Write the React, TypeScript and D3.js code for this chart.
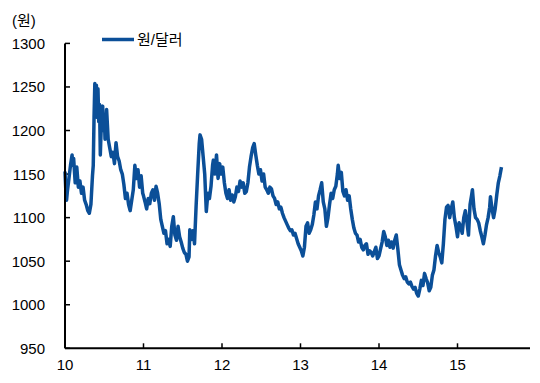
import React from "react";
import * as d3 from "d3";

// fractional year positions and KRW/USD rates
const times: number[] = [
  2010.00, 2010.01, 2010.02, 2010.03, 2010.05, 2010.07, 2010.09, 2010.10, 2010.11, 2010.13,
  2010.15, 2010.17, 2010.19, 2010.21, 2010.23, 2010.25, 2010.27, 2010.29, 2010.31, 2010.33,
  2010.35, 2010.36, 2010.37, 2010.38, 2010.39, 2010.40, 2010.41, 2010.42, 2010.43, 2010.44,
  2010.45, 2010.46, 2010.48, 2010.49, 2010.50, 2010.51, 2010.53, 2010.55, 2010.57, 2010.59,
  2010.61, 2010.63, 2010.65, 2010.67, 2010.69, 2010.71, 2010.73, 2010.75, 2010.77, 2010.79,
  2010.81, 2010.83, 2010.85, 2010.87, 2010.89, 2010.91, 2010.93, 2010.95, 2010.97, 2010.99,
  2011.00, 2011.02, 2011.04, 2011.06, 2011.08, 2011.10, 2011.12, 2011.14, 2011.16, 2011.18,
  2011.20, 2011.22, 2011.24, 2011.26, 2011.28, 2011.30, 2011.32, 2011.34, 2011.36, 2011.38,
  2011.40, 2011.42, 2011.44, 2011.46, 2011.48, 2011.50, 2011.52, 2011.54, 2011.56, 2011.58,
  2011.59, 2011.61, 2011.63, 2011.65, 2011.67, 2011.69, 2011.71, 2011.72, 2011.74, 2011.76,
  2011.78, 2011.80, 2011.82, 2011.84, 2011.86, 2011.88, 2011.89, 2011.91, 2011.93, 2011.95,
  2011.97, 2011.99,
  2012.01, 2012.03, 2012.05, 2012.07, 2012.09, 2012.11, 2012.13, 2012.15, 2012.17, 2012.19,
  2012.21, 2012.23, 2012.25, 2012.27, 2012.29, 2012.31, 2012.33, 2012.35, 2012.37, 2012.39,
  2012.41, 2012.43, 2012.45, 2012.47, 2012.49, 2012.51, 2012.53, 2012.55, 2012.57, 2012.59,
  2012.61, 2012.63, 2012.65, 2012.67, 2012.69, 2012.71, 2012.73, 2012.75, 2012.77, 2012.79,
  2012.81, 2012.83, 2012.85, 2012.87, 2012.89, 2012.91, 2012.93, 2012.95, 2012.97, 2012.99,
  2013.01, 2013.03, 2013.05, 2013.07, 2013.09, 2013.11, 2013.13, 2013.15, 2013.17, 2013.19,
  2013.21, 2013.23, 2013.25, 2013.27, 2013.29, 2013.31, 2013.33, 2013.35, 2013.37, 2013.39,
  2013.41, 2013.43, 2013.45, 2013.47, 2013.48, 2013.50, 2013.52, 2013.54, 2013.56, 2013.58,
  2013.60, 2013.62, 2013.64, 2013.66, 2013.68, 2013.70, 2013.72, 2013.74, 2013.76, 2013.78,
  2013.80, 2013.82, 2013.84, 2013.86, 2013.88, 2013.90, 2013.92, 2013.94, 2013.96, 2013.98,
  2014.00, 2014.02, 2014.04, 2014.06, 2014.08, 2014.10, 2014.12, 2014.14, 2014.16, 2014.18,
  2014.20, 2014.22, 2014.24, 2014.26, 2014.28, 2014.30, 2014.32, 2014.34, 2014.36, 2014.38,
  2014.40, 2014.42, 2014.44, 2014.46, 2014.48, 2014.50, 2014.52, 2014.54, 2014.56, 2014.58,
  2014.60, 2014.62, 2014.64, 2014.66, 2014.68, 2014.70, 2014.72, 2014.74, 2014.76, 2014.78,
  2014.80, 2014.82, 2014.84, 2014.86, 2014.88, 2014.90, 2014.92, 2014.94, 2014.96, 2014.98,
  2015.00, 2015.02, 2015.04, 2015.06, 2015.08, 2015.10, 2015.12, 2015.14, 2015.16, 2015.18,
  2015.19, 2015.21, 2015.23, 2015.25, 2015.27, 2015.29, 2015.31, 2015.33, 2015.35, 2015.37,
  2015.39, 2015.41, 2015.42, 2015.44, 2015.46, 2015.48, 2015.50, 2015.52, 2015.54, 2015.56,
];

const rates: number[] = [
  1153, 1132, 1120, 1130, 1145, 1160, 1172, 1160, 1168, 1140,
  1158, 1135, 1142, 1128, 1135, 1120, 1115, 1108, 1105, 1115,
  1148, 1160, 1215, 1254, 1230, 1252, 1215, 1248, 1210, 1230,
  1172, 1200, 1228, 1200, 1218, 1190, 1224, 1190, 1180, 1170,
  1175, 1162, 1186, 1170, 1165, 1155, 1150, 1138, 1122, 1128,
  1115, 1108, 1120, 1132, 1160, 1145, 1155, 1135, 1148, 1128,
  1125, 1118, 1110, 1122, 1116, 1128, 1132, 1120, 1136, 1128,
  1116, 1098, 1090, 1082, 1085, 1070, 1075, 1067, 1090, 1101,
  1080, 1074, 1090, 1078, 1072, 1065, 1060, 1058, 1050, 1055,
  1086, 1075, 1085, 1070, 1113, 1150, 1185, 1195, 1190, 1170,
  1150, 1107, 1128, 1122, 1136, 1160, 1166, 1150, 1172, 1145,
  1162, 1150,
  1158, 1140, 1128, 1122, 1132, 1120, 1126, 1118, 1124, 1135,
  1130, 1142, 1135, 1140, 1128, 1130, 1140, 1158, 1170, 1180,
  1185, 1172, 1160, 1150, 1155, 1142, 1150, 1135, 1132, 1128,
  1135, 1133, 1125, 1122, 1115, 1118, 1110, 1112, 1105, 1100,
  1096, 1092, 1088, 1085, 1086, 1080, 1082, 1076, 1070, 1066,
  1062, 1056, 1066, 1090, 1094, 1082, 1086, 1092, 1103, 1118,
  1110, 1125, 1132, 1140, 1118, 1110, 1090, 1100, 1115, 1128,
  1122, 1132, 1136, 1150, 1160, 1145, 1152, 1130, 1125, 1132,
  1120, 1125, 1110, 1098, 1088, 1082, 1080, 1072, 1075, 1066,
  1063, 1068, 1070, 1058, 1062, 1060, 1056, 1061, 1066, 1053,
  1056, 1064, 1072, 1084, 1078, 1068, 1074, 1066, 1072, 1065,
  1074, 1080, 1064, 1046, 1040, 1034, 1030, 1032, 1026, 1024,
  1026, 1021, 1018, 1020, 1013, 1010, 1018, 1028, 1022, 1036,
  1030, 1025, 1016, 1020, 1034, 1040, 1056, 1068, 1060, 1055,
  1048, 1070, 1098, 1112, 1114, 1100, 1110, 1118, 1100, 1090,
  1078, 1094, 1090, 1082, 1100, 1108, 1095, 1080, 1115, 1126,
  1132, 1110, 1100, 1098, 1094, 1085, 1078, 1070, 1080, 1092,
  1100, 1112, 1124, 1110, 1100, 1110, 1126, 1140, 1148, 1158,
];

const yTicks: number[] = [950, 1000, 1050, 1100, 1150, 1200, 1250, 1300];
const xTicks: number[] = [2010, 2011, 2012, 2013, 2014, 2015];
const xTickLabels: string[] = ["10", "11", "12", "13", "14", "15"];
const seriesName = "원/달러";
const unitLabel = "(원)";

const W = 540;
const H = 383;
const FONT = "'Liberation Sans', Arial, 'Noto Sans CJK KR', sans-serif";
const LINE_COLOR = "#0b4f98";

export default function App() {
  const x = d3.scaleLinear().domain([2010, 2016]).range([65, 65 + 6 * 78.5]);
  const y = d3.scaleLinear().domain([950, 1300]).range([348.3, 43.4]);
  const pts: [number, number][] = times.map((t, i) => [t, rates[i]]);
  const line = d3
    .line<[number, number]>()
    .x((d) => x(d[0]))
    .y((d) => y(d[1]));

  const axisRight = 530;

  return (
    <svg
      width={W}
      height={H}
      style={{ position: "absolute", left: 0, top: 0, background: "#fff" }}
      fontFamily={FONT}
    >
      <rect x={0} y={0} width={W} height={H} fill="#fff" />
      <text x={12} y={26} fontSize={15} fill="#000">
        {unitLabel}
      </text>
      {yTicks.map((v) => (
        <g key={v}>
          <line x1={65} x2={70} y1={y(v)} y2={y(v)} stroke="#000" strokeWidth={1.5} />
          <text x={45} y={y(v) + 5.5} fontSize={15} textAnchor="end" fill="#000">
            {v}
          </text>
        </g>
      ))}
      {xTicks.map((t, i) => (
        <g key={t}>
          <line x1={x(t)} x2={x(t)} y1={y(950)} y2={y(950) - 5} stroke="#000" strokeWidth={1.5} />
          <text x={x(t)} y={370} fontSize={15} textAnchor="middle" fill="#000">
            {xTickLabels[i]}
          </text>
        </g>
      ))}
      <path
        d={line(pts) || ""}
        fill="none"
        stroke={LINE_COLOR}
        strokeWidth={3.5}
        strokeLinejoin="round"
      />
      <line x1={65} x2={65} y1={y(1300)} y2={y(950)} stroke="#000" strokeWidth={2} />
      <line x1={65} x2={axisRight} y1={y(950)} y2={y(950)} stroke="#000" strokeWidth={2} />
      <line x1={102} x2={134} y1={39.5} y2={39.5} stroke={LINE_COLOR} strokeWidth={3.5} />
      <text x={137} y={45} fontSize={15} fill="#000">
        {seriesName}
      </text>
    </svg>
  );
}
